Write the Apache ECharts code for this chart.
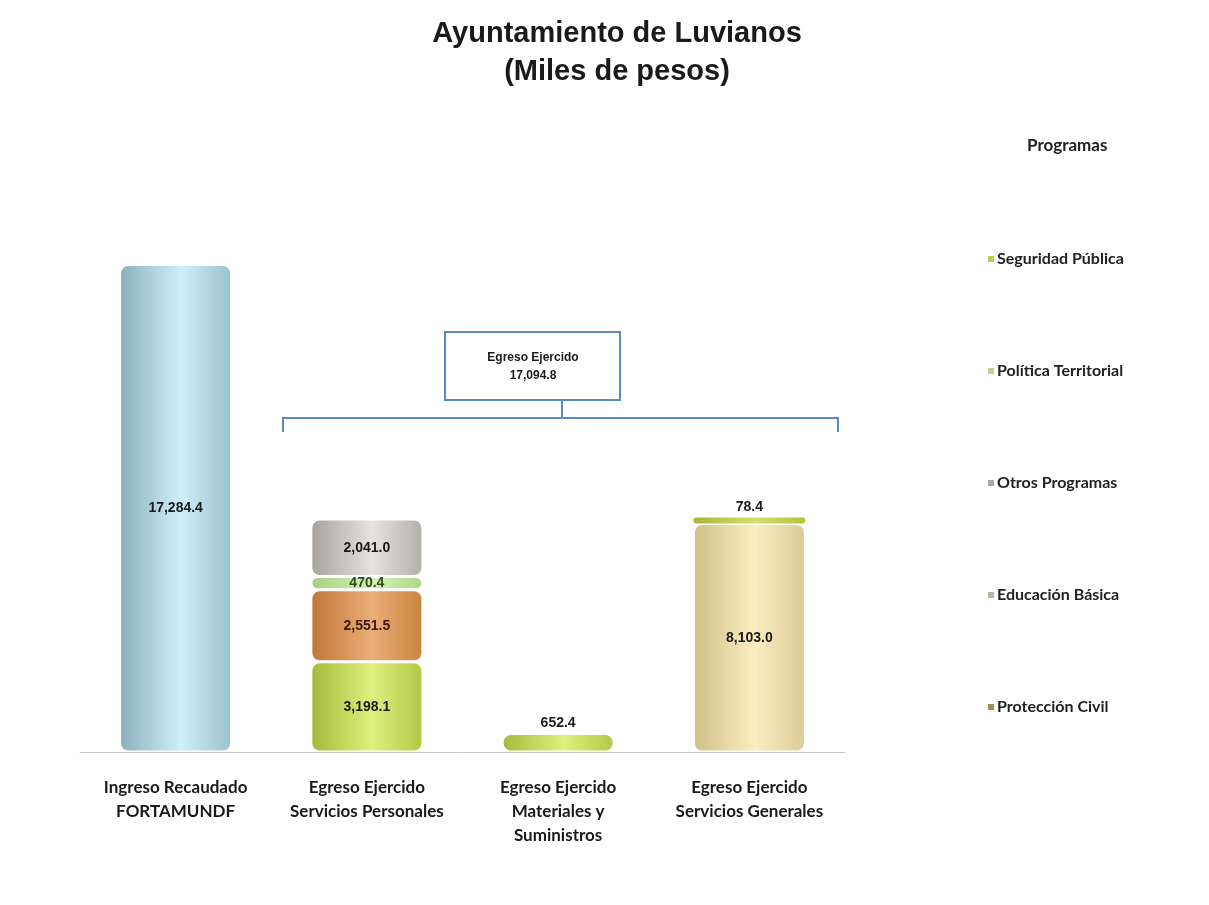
<!DOCTYPE html>
<html>
<head>
    <meta charset="utf-8" />
    <title>Ayuntamiento de Luvianos</title>
    <script src="https://cdn.jsdelivr.net/npm/echarts@6/dist/echarts.min.js"></script>
    <style type="text/css">
        html, body { margin: 0; padding: 0; background: #fff; }
        #chart { width: 1209px; height: 905px; }
    </style>
</head>
<body>
    <div id="chart"></div>
    <script>
        // categorias del eje x
        var categories = [
            'Ingreso Recaudado\nFORTAMUNDF',
            'Egreso Ejercido\nServicios Personales',
            'Egreso Ejercido\nMateriales y\nSuministros',
            'Egreso Ejercido\nServicios Generales'
        ];
        // valores por nivel de la pila (miles de pesos)
        var ingreso = [17284.4, null, null, null];
        var seguridad = [null, 3198.1, 652.4, null];
        var proteccion = [null, 2551.5, null, null];
        var educacion = [null, null, null, 8103.0];
        var politica = [null, 470.4, null, 78.4];
        var otros = [null, 2041.0, null, null];
        var egresoTotal = '17,094.8';

        var legendNames = ['Seguridad Pública', 'Política Territorial', 'Otros Programas', 'Educación Básica', 'Protección Civil'];
        var legendColors = ['#bcd048', '#c6cc96', '#a9a9a9', '#b3b7a3', '#a38e52'];

        var chart = echarts.init(document.getElementById('chart'));

        function fmt(v) {
            return v.toLocaleString('en-US', { minimumFractionDigits: 1, maximumFractionDigits: 1 });
        }

        // degradado horizontal para simular cilindro
        function cyl(edgeL, mid, edgeR) {
            return new echarts.graphic.LinearGradient(0, 0, 1, 0, [
                { offset: 0, color: edgeL },
                { offset: 0.55, color: mid },
                { offset: 1, color: edgeR }
            ]);
        }

        var labelFont = "'Liberation Sans', Arial, sans-serif";
        var textFont = "Lato, 'Open Sans', sans-serif";

        function barSeries(name, data, color, labelColor) {
            return {
                name: name,
                type: 'bar',
                stack: 'total',
                barWidth: 112,
                data: data,
                itemStyle: {
                    color: color,
                    borderRadius: 8,
                    borderColor: '#ffffff',
                    borderWidth: 1.5
                },
                label: {
                    show: true,
                    position: 'inside',
                    color: labelColor || '#1a1a1a',
                    fontFamily: labelFont,
                    fontWeight: 'bold',
                    fontSize: 14,
                    formatter: function (p) { return fmt(p.value); }
                }
            };
        }

        function topLabel(v) {
            return { show: true, position: 'top', distance: 3, color: '#1a1a1a', formatter: fmt(v) };
        }

        var option = {
            backgroundColor: '#ffffff',
            animation: false,
            title: {
                text: 'Ayuntamiento de Luvianos\n(Miles de pesos)',
                left: 612,
                top: 10,
                textAlign: 'center',
                textStyle: {
                    fontFamily: "'Liberation Sans', Arial, sans-serif",
                    fontWeight: 'bold',
                    fontSize: 29,
                    lineHeight: 38,
                    color: '#1a1a1a'
                }
            },
            legend: {
                orient: 'vertical',
                left: 981,
                top: 246,
                itemGap: 96,
                itemWidth: 8,
                itemHeight: 8,
                icon: 'rect',
                selectedMode: false,
                textStyle: {
                    fontFamily: textFont,
                    fontWeight: 'bold',
                    fontSize: 16,
                    color: '#222',
                    padding: [0, 0, 0, -3]
                },
                data: legendNames.map(function (n, i) {
                    return { name: n, itemStyle: { color: legendColors[i] } };
                })
            },
            grid: { left: 80, right: 364, top: 188, bottom: 153 },
            xAxis: {
                type: 'category',
                data: categories,
                axisLine: { lineStyle: { color: '#c8c8c8', width: 1 } },
                axisTick: { show: false },
                axisLabel: {
                    margin: 24,
                    interval: 0,
                    fontFamily: textFont,
                    fontWeight: 'bold',
                    fontSize: 17,
                    lineHeight: 24,
                    color: '#1a1a1a'
                }
            },
            yAxis: {
                type: 'value',
                min: 0,
                max: 20000,
                show: false
            },
            graphic: [
                {
                    type: 'text', left: 1027, top: 137,
                    style: { text: 'Programas', font: "bold 17px Lato, 'Open Sans', sans-serif", fill: '#222' }
                },
                {
                    type: 'rect', shape: { x: 445, y: 332, width: 175, height: 68 },
                    style: { fill: '#fff', stroke: '#5b8bc4', lineWidth: 2 }
                },
                {
                    type: 'text', x: 533, y: 349,
                    style: { text: 'Egreso Ejercido\n' + egresoTotal, align: 'center', verticalAlign: 'top',
                        font: "bold 12px 'Liberation Sans', Arial, sans-serif", lineHeight: 18, fill: '#1a1a1a' }
                },
                {
                    type: 'polyline', shape: { points: [[562, 401], [562, 418]] },
                    style: { stroke: '#5b8bc4', lineWidth: 2 }
                },
                {
                    type: 'polyline', shape: { points: [[283, 432], [283, 418], [838, 418], [838, 432]] },
                    style: { stroke: '#5b8bc4', lineWidth: 2, fill: null }
                }
            ],
            series: [
                barSeries('Ingreso', ingreso, cyl('#8aaebd', '#cdf0fa', '#9cc0cd')),
                barSeries('Seguridad Pública', seguridad, cyl('#a4ba3a', '#def07e', '#b2c846')),
                barSeries('Protección Civil', proteccion, cyl('#be7636', '#ecae78', '#c8843e'), '#3a1a0a'),
                barSeries('Educación Básica', educacion, cyl('#d2bf88', '#fcedc2', '#dccb96')),
                barSeries('Política Territorial', politica, cyl('#a8cc84', '#d6f0b4', '#b0d48c'), '#2e4a1e'),
                barSeries('Otros Programas', otros, cyl('#a6a29c', '#e6e2de', '#b2aea8'))
            ]
        };

        // etiquetas arriba de las barras pequeñas
        option.series[1].data = seguridad.map(function (v, i) {
            return i === 2 ? { value: v, label: topLabel(v) } : v;
        });
        option.series[4].barMinHeight = 6;
        option.series[4].data = politica.map(function (v, i) {
            return i === 3 ? { value: v,
                itemStyle: { color: cyl('#a8b830', '#d4e068', '#b4c23c'), borderRadius: 3, borderWidth: 0 },
                label: topLabel(v) } : v;
        });

        chart.setOption(option);
    </script>
</body>
</html>
